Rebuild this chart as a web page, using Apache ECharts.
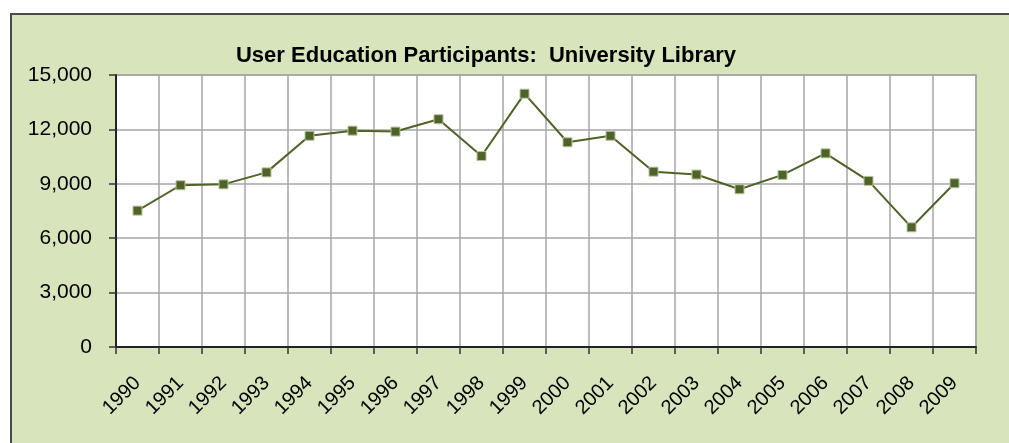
<!DOCTYPE html>
<html>
<head>
<meta charset="utf-8">
<script src="https://cdn.jsdelivr.net/npm/echarts@6/dist/echarts.min.js"></script>
<style>
  html, body { margin: 0; padding: 0; background: #fff; overflow: hidden; }
  #chart { width: 1009px; height: 443px; }
</style>
</head>
<body>
<div id="chart"></div>
<script>
const years = ['1990', '1991', '1992', '1993', '1994', '1995', '1996', '1997', '1998', '1999',
  '2000', '2001', '2002', '2003', '2004', '2005', '2006', '2007', '2008', '2009']
const participants = [7520, 8920, 8970, 9630, 11650, 11930, 11880, 12560, 10530, 13970,
  11290, 11650, 9670, 9510, 8700, 9490, 10680, 9160, 6600, 9030]
const yTicks = { min: 0, max: 15000, interval: 3000 }

const myChart = echarts.init(document.getElementById('chart'))

const font = '"Liberation Sans", Arial, sans-serif'

myChart.setOption({
  animation: false,
  backgroundColor: '#fff',
  graphic: [{
    type: 'rect',
    z: -10,
    shape: { x: 11, y: 14, width: 1100, height: 500 },
    style: { fill: '#D8E4BC', stroke: '#4a4a4a', lineWidth: 2 }
  }],
  title: {
    text: 'User Education Participants:  University Library',
    left: 481,
    top: 40,
    textAlign: 'center',
    textStyle: { fontFamily: font, fontSize: 22, fontWeight: 'bold', color: '#000' }
  },
  grid: {
    left: 116, top: 75, width: 860, height: 272,
    show: true, backgroundColor: '#fff', borderColor: '#a0a0a0', borderWidth: 1.5
  },
  xAxis: {
    type: 'category',
    data: years,
    boundaryGap: true,
    axisLine: { lineStyle: { color: '#222', width: 2 } },
    axisTick: { show: true, length: 7, lineStyle: { color: '#333', width: 1.5 } },
    splitLine: { show: true, lineStyle: { color: '#a6a6a6', width: 1.5 } },
    axisLabel: {
      rotate: 45, margin: 33, interval: 0,
      fontFamily: font, fontSize: 20, color: '#000'
    }
  },
  yAxis: {
    type: 'value',
    min: yTicks.min, max: yTicks.max, interval: yTicks.interval,
    axisLine: { show: true, lineStyle: { color: '#222', width: 2 } },
    axisTick: { show: true, length: 7, lineStyle: { color: '#333', width: 1.5 } },
    splitLine: { show: true, lineStyle: { color: '#a6a6a6', width: 1.5 } },
    axisLabel: {
      margin: 24, fontFamily: font, fontSize: 21, color: '#000',
      formatter: v => v.toLocaleString('en-US')
    }
  },
  series: [{
    type: 'line',
    data: participants,
    symbol: 'rect',
    symbolSize: 9,
    lineStyle: { color: '#4F6228', width: 2 },
    itemStyle: { color: '#4F6228', borderColor: '#b8c49a', borderWidth: 1 }
  }]
})
</script>
</body>
</html>
